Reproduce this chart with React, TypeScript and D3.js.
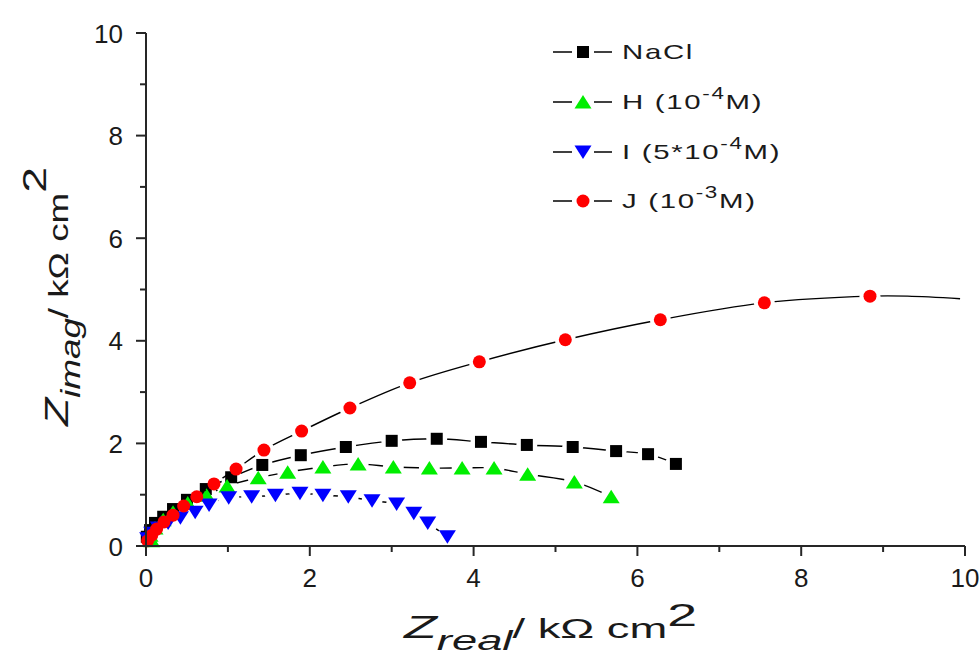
import React from "react";
import * as d3 from "d3";

const W = 979;
const H = 664;

// Nyquist data: [Z_real, Z_imag] in kΩ cm²
const naclData: [number, number][] = [
  [0.01, 0.18], [0.05, 0.31], [0.11, 0.45], [0.21, 0.57], [0.33, 0.72], [0.5, 0.9],
  [0.73, 1.11], [1.04, 1.34], [1.42, 1.58], [1.89, 1.77], [2.44, 1.93], [3.0, 2.05],
  [3.55, 2.09], [4.09, 2.03], [4.65, 1.97], [5.21, 1.93], [5.74, 1.85], [6.13, 1.79], [6.47, 1.6],
];
const hData: [number, number][] = [
  [0.07, 0.1], [0.05, 0.21], [0.11, 0.35], [0.21, 0.51], [0.33, 0.66], [0.51, 0.84],
  [0.74, 0.99], [0.99, 1.17], [1.37, 1.33], [1.73, 1.44], [2.16, 1.54], [2.59, 1.6],
  [3.02, 1.54], [3.46, 1.52], [3.86, 1.52], [4.25, 1.52], [4.66, 1.4], [5.23, 1.25], [5.68, 0.96],
];
const iData: [number, number][] = [
  [0.02, 0.14], [0.07, 0.25], [0.15, 0.35], [0.27, 0.45], [0.42, 0.55], [0.6, 0.66],
  [0.77, 0.8], [1.01, 0.94], [1.29, 0.96], [1.58, 0.99], [1.88, 1.03], [2.16, 0.99],
  [2.47, 0.96], [2.76, 0.88], [3.06, 0.82], [3.27, 0.64], [3.44, 0.45], [3.68, 0.18],
];
const jData: [number, number][] = [
  [0.02, 0.1], [0.07, 0.21], [0.13, 0.33], [0.22, 0.47], [0.33, 0.6], [0.46, 0.78],
  [0.62, 0.96], [0.83, 1.21], [1.1, 1.5], [1.44, 1.87], [1.9, 2.24], [2.49, 2.69],
  [3.22, 3.18], [4.07, 3.59], [5.12, 4.02], [6.28, 4.41], [7.55, 4.74], [8.84, 4.87],
];
// fitted curve of J continues past the last measured point
const jFitTail: [number, number][] = [[9.3, 4.87], [9.94, 4.82]];

const seriesNames = ["NaCl", "H", "I", "J"];
const seriesColors = ["#000000", "#00ee00", "#0000ff", "#ff0000"];
const seriesShapes = ["square", "up", "down", "circle"];

const xMajor = [0, 2, 4, 6, 8, 10];
const xMinor = [1, 3, 5, 7, 9];
const yMajor = [0, 2, 4, 6, 8, 10];
const yMinor = [1, 3, 5, 7, 9];

const X0 = 146, X1 = 965, Y0 = 546, Y1 = 33;
const x = d3.scaleLinear().domain([0, 10]).range([X0, X1]);
const y = d3.scaleLinear().domain([0, 10]).range([Y0, Y1]);

const AX = "#262626";
const TXT = "#1a1a1a";
const FONT = "'Liberation Sans', Arial, sans-serif";

function Marker({ shape, color, cx, cy }: { shape: string; color: string; cx: number; cy: number }) {
  if (shape === "square") return <rect x={cx - 6} y={cy - 6} width={12} height={12} fill={color} />;
  if (shape === "up")
    return <path d={`M${cx},${cy - 7}L${cx + 8.5},${cy + 6.5}L${cx - 8.5},${cy + 6.5}Z`} fill={color} />;
  if (shape === "down")
    return <path d={`M${cx - 8.5},${cy - 6.5}L${cx + 8.5},${cy - 6.5}L${cx},${cy + 7}Z`} fill={color} />;
  return <circle cx={cx} cy={cy} r={6.5} fill={color} />;
}

function Sup({ base, sup, tail }: { base: string; sup: string; tail: string }) {
  return (
    <>
      <tspan>{base}</tspan>
      <tspan dy={-10} fontSize={16}>{sup}</tspan>
      <tspan dy={10}>{tail}</tspan>
    </>
  );
}

export default function App() {
  const datasets = [naclData, hData, iData, jData];
  const fits = [naclData, hData, iData, [...jData, ...jFitTail]];
  const line = d3
    .line<[number, number]>()
    .x((d) => x(d[0]))
    .y((d) => y(d[1]))
    .curve(d3.curveCatmullRom.alpha(0.5));

  const legendRows = [52, 102, 152, 201];

  return (
    <svg width={W} height={H} style={{ position: "absolute", left: 0, top: 0, background: "#fff" }} fontFamily={FONT}>
      <defs>
        {datasets.map((ds, i) => (
          <mask id={`gap${i}`} key={i} maskUnits="userSpaceOnUse" x={0} y={0} width={W} height={H}>
            <rect x={0} y={0} width={W} height={H} fill="white" />
            {ds.map((d, k) => (
              <circle key={k} cx={x(d[0])} cy={y(d[1])} r={10.5} fill="black" />
            ))}
          </mask>
        ))}
      </defs>

      {/* series */}
      {datasets.map((ds, i) => (
        <g key={i}>
          <path d={line(fits[i] as [number, number][]) || ""} fill="none" stroke="#000" strokeWidth={1.4} mask={`url(#gap${i})`} />
          {ds.map((d, k) => (
            <Marker key={k} shape={seriesShapes[i]} color={seriesColors[i]} cx={x(d[0])} cy={y(d[1])} />
          ))}
        </g>
      ))}

      {/* axes */}
      <line x1={X0} x2={X1} y1={Y0} y2={Y0} stroke={AX} strokeWidth={2} />
      <line x1={X0} x2={X0} y1={Y0} y2={Y1} stroke={AX} strokeWidth={2} />
      {xMajor.map((t) => (
        <g key={`xM${t}`}>
          <line x1={x(t)} x2={x(t)} y1={Y0} y2={Y0 + 10} stroke={AX} strokeWidth={2} />
          <text x={x(t)} y={587} textAnchor="middle" fontSize={26} fill={TXT}>{t}</text>
        </g>
      ))}
      {xMinor.map((t) => (
        <line key={`xm${t}`} x1={x(t)} x2={x(t)} y1={Y0} y2={Y0 + 6} stroke={AX} strokeWidth={2} />
      ))}
      {yMajor.map((t) => (
        <g key={`yM${t}`}>
          <line x1={X0 - 10} x2={X0} y1={y(t)} y2={y(t)} stroke={AX} strokeWidth={2} />
          <text x={123} y={y(t) + 9.5} textAnchor="end" fontSize={26} fill={TXT}>{t}</text>
        </g>
      ))}
      {yMinor.map((t) => (
        <line key={`ym${t}`} x1={X0 - 6} x2={X0} y1={y(t)} y2={y(t)} stroke={AX} strokeWidth={2} />
      ))}

      {/* axis titles */}
      <g transform="translate(404,638) scale(1.68,1)">
        <text x={0} y={0} fontSize={27} fill={TXT}>
          <tspan fontStyle="italic" fontSize={32}>Z</tspan>
          <tspan fontStyle="italic" dy={12}>real</tspan>
          <tspan dy={-12}>{"/ kΩ cm"}</tspan>
          <tspan fontSize={32} dy={-12}>2</tspan>
        </text>
      </g>
      <g transform="translate(68,426) rotate(-90) scale(1.36,1)">
        <text x={0} y={0} fontSize={27} fill={TXT}>
          <tspan fontStyle="italic" fontSize={34}>Z</tspan>
          <tspan fontStyle="italic" dy={12}>imag</tspan>
          <tspan dy={-12}>{"/ kΩ cm"}</tspan>
          <tspan fontSize={34} dy={-22}>2</tspan>
        </text>
      </g>

      {/* legend */}
      {seriesNames.map((name, i) => {
        const cy = legendRows[i];
        return (
          <g key={name}>
            <line x1={553} x2={572} y1={cy} y2={cy} stroke="#000" strokeWidth={1.5} />
            <line x1={594} x2={612} y1={cy} y2={cy} stroke="#000" strokeWidth={1.5} />
            <Marker shape={seriesShapes[i]} color={seriesColors[i]} cx={583} cy={cy} />
            <g transform={`translate(622,${cy + 7}) scale(1.4,1)`}>
              <text x={0} y={0} fontSize={21} letterSpacing={1.2} fill={TXT}>
                {i === 0 && "NaCl"}
                {i === 1 && <Sup base={"H (10"} sup="-4" tail="M)" />}
                {i === 2 && <Sup base={"I (5*10"} sup="-4" tail="M)" />}
                {i === 3 && <Sup base={"J  (10"} sup="-3" tail="M)" />}
              </text>
            </g>
          </g>
        );
      })}
    </svg>
  );
}
